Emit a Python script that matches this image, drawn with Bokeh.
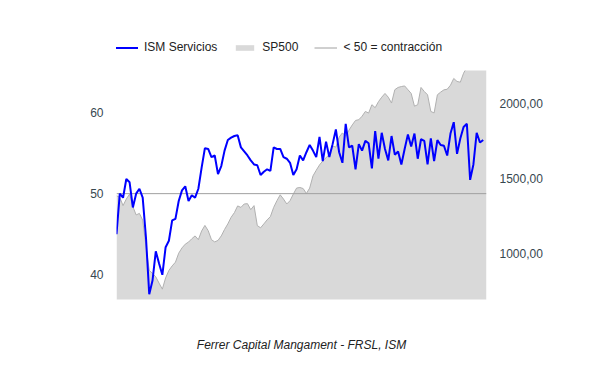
from bokeh.plotting import figure
from bokeh.layouts import column
from bokeh.models import Range1d, LinearAxis, FixedTicker, Legend, LegendItem
from bokeh.embed import file_html
from bokeh.resources import INLINE

# ---- data ----
ism_servicios = [
    45.0, 50.0, 49.5, 51.8, 51.4, 48.3, 50.0, 50.6, 49.5, 44.6,
    37.6, 39.3, 42.9, 41.4, 40.0, 43.4, 44.2, 46.7, 46.9, 49.1,
    50.4, 50.9, 49.1, 49.8, 49.5, 50.6, 53.2, 55.6, 55.5, 54.5,
    54.7, 52.4, 53.4, 55.3, 56.6, 56.9, 57.1, 57.2, 55.7, 55.2,
    54.7, 54.1, 53.6, 53.5, 52.3, 52.7, 53.0, 52.8, 55.7, 55.5,
    55.5, 54.5, 54.3, 53.8, 52.3, 53.0, 54.7, 54.1, 55.1, 56.0,
    55.3, 54.5, 57.0, 54.0, 56.4, 54.5, 56.1, 57.9, 55.1, 53.8,
    58.6, 55.7, 55.9, 53.0, 56.1, 55.3, 56.5, 56.2, 53.1, 57.7,
    54.3, 57.5, 55.5, 54.1, 57.1, 54.8, 55.2, 53.6, 55.5, 57.3,
    55.8, 57.4, 54.3, 56.7, 56.5, 53.6, 56.8, 54.0, 56.6, 56.0,
    55.9, 54.7, 57.4, 58.8, 54.9, 56.8, 58.2, 58.6, 51.7, 53.6,
    57.5, 56.3, 56.6,
]
sp500 = [
    1383, 1372, 1317, 1361, 1394, 1310, 1255, 1265, 1220, 1045,
    885, 865, 842, 800, 760, 835, 885, 915, 940, 1000,
    1035, 1060, 1074, 1096, 1115, 1090, 1148, 1185, 1150, 1090,
    1075, 1085, 1115, 1158, 1195, 1239, 1270, 1315, 1305, 1328,
    1330, 1290, 1317, 1184, 1169, 1195, 1222, 1244, 1305, 1350,
    1389, 1361, 1328, 1350, 1394, 1434, 1438, 1431, 1398, 1434,
    1515, 1553, 1588, 1615, 1636, 1659, 1714, 1707, 1774, 1802,
    1780, 1820, 1855, 1885, 1890, 1913, 1945, 1934, 1990, 1970,
    2010, 2040, 2065, 2040, 2001, 2090, 2105, 2111, 2115, 2090,
    2065, 1980, 1990, 2105, 2078, 2056, 1945, 1935, 2056, 2074,
    2089, 2093, 2120, 2165, 2145, 2140, 2200, 2240, 2280, 2330,
    2360, 2380, 2400, 2420,
]
periodos_ism = list(range(len(ism_servicios)))
periodos_sp = list(range(len(sp500)))
umbral = 50
ticks_ism = [40, 50, 60]
ticks_sp = [1000, 1500, 2000]
series_nombres = ["ISM Servicios", "SP500", "< 50 = contracción"]

FONT = "Liberation Sans"
AXIS_COLOR = "#37474f"
BLUE = "#0000ff"
AREA = "#d9d9d9"
AREA_LINE = "#b0b0b0"
UMBRAL_COLOR = "#a0a0a0"


def draw_series(fig, sp_range):
    r_area = fig.varea(x=periodos_sp, y1=[0] * len(sp500), y2=sp500,
                       y_range_name=sp_range, fill_color=AREA)
    fig.line(x=periodos_sp, y=sp500, y_range_name=sp_range, line_color=AREA_LINE, line_width=1)
    r_umb = fig.line(x=[periodos_sp[0], periodos_sp[-1]], y=[umbral, umbral],
                     line_color=UMBRAL_COLOR, line_width=1)
    r_ism = fig.line(x=periodos_ism, y=ism_servicios, line_color=BLUE, line_width=2)
    return r_ism, r_area, r_umb


p = figure(width=584, height=299, output_backend="svg", toolbar_location=None,
           x_range=Range1d(0, len(sp500) - 1), y_range=Range1d(36.96, 65.17),
           min_border_left=116, min_border_right=98, min_border_top=14, min_border_bottom=56,
           background_fill_color="white", border_fill_color="white")
p.outline_line_color = None
p.grid.visible = False
p.extra_y_ranges = {"sp": Range1d(691, 2218)}
draw_series(p, "sp")

# left axis
ya = p.yaxis[0]
ya.ticker = FixedTicker(ticks=ticks_ism)
ya.axis_line_color = None
ya.major_tick_line_color = None
ya.minor_tick_line_color = None
ya.major_tick_out = 0
ya.major_label_standoff = 13
ya.major_label_text_font = FONT
ya.major_label_text_font_size = "12px"
ya.major_label_text_color = AXIS_COLOR

# right axis
ra = LinearAxis(y_range_name="sp", ticker=FixedTicker(ticks=ticks_sp),
                major_label_overrides={v: f"{v:.2f}".replace(".", ",") for v in ticks_sp})
ra.axis_line_color = None
ra.major_tick_line_color = None
ra.minor_tick_line_color = None
ra.major_tick_out = 0
ra.major_label_standoff = 13
ra.major_label_text_font = FONT
ra.major_label_text_font_size = "12px"
ra.major_label_text_color = AXIS_COLOR
p.add_layout(ra, "right")

# bottom axis used for caption
xa = p.xaxis[0]
xa.ticker = FixedTicker(ticks=[])
xa.axis_line_color = None
xa.major_tick_line_color = None
xa.minor_tick_line_color = None
xa.major_tick_out = 0
xa.axis_label = "Ferrer Capital Mangament - FRSL, ISM"
xa.axis_label_text_font = FONT
xa.axis_label_text_font_size = "12px"
xa.axis_label_text_font_style = "italic"
xa.axis_label_text_color = "#222222"
xa.axis_label_standoff = 38

# legend strip: separate figure above the chart; same series drawn out of view
lf = figure(width=584, height=56, output_backend="svg", toolbar_location=None,
            x_range=Range1d(0, len(sp500) - 1), y_range=Range1d(-20, -10),
            min_border_left=116, min_border_right=98, min_border_top=0, min_border_bottom=0,
            background_fill_color="white", border_fill_color="white")
lf.extra_y_ranges = {"sp": Range1d(-20, -10)}
lf.axis.visible = False
lf.grid.visible = False
lf.outline_line_color = None
g1, g2, g3 = draw_series(lf, "sp")
legend = Legend(items=[
    LegendItem(label=series_nombres[0], renderers=[g1]),
    LegendItem(label=series_nombres[1], renderers=[g2]),
    LegendItem(label=series_nombres[2], renderers=[g3]),
], location=(-1, 2), orientation="horizontal", glyph_width=23, glyph_height=7,
    label_standoff=6, spacing=16, padding=0, margin=0, border_line_color=None,
    background_fill_alpha=0, label_text_font=FONT, label_text_font_size="12px",
    label_text_color="#222222")
lf.add_layout(legend)

layout = column(lf, p, spacing=0)
open("out.html", "w").write(file_html(layout, INLINE))
